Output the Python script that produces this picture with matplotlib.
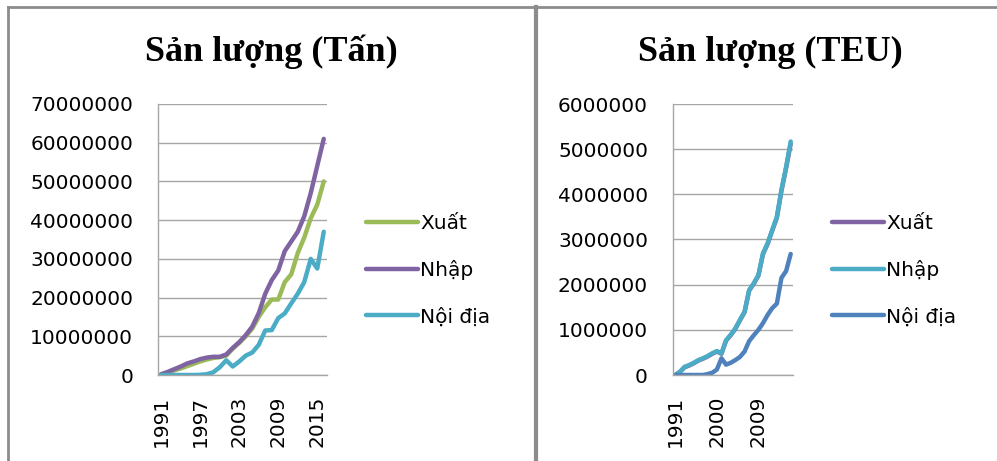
import matplotlib
matplotlib.use("Agg")
import matplotlib.pyplot as plt
from matplotlib.lines import Line2D

# Years 1991-2016
years = list(range(1991, 2017))

# Cargo throughput in tonnes (millions)
tan_xuat = [0.2, 0.6, 1.2, 1.7, 2.3, 2.9, 3.5, 4.0, 4.4, 4.6, 5.0, 6.8, 8.3, 10.0,
            12.0, 15.0, 17.5, 19.5, 19.5, 24.0, 26.0, 31.5, 35.5, 40.5, 44.0, 50.0]
tan_nhap = [0.2, 0.8, 1.5, 2.2, 3.0, 3.5, 4.1, 4.5, 4.7, 4.7, 5.3, 7.0, 8.5, 10.3,
            12.5, 16.0, 21.0, 24.5, 27.0, 32.0, 34.5, 37.0, 41.0, 47.0, 54.0, 61.0]
tan_noidia = [0.0, 0.0, 0.0, 0.0, 0.0, 0.0, 0.05, 0.2, 0.7, 2.0, 3.8, 2.2, 3.5, 5.0,
              5.8, 7.8, 11.5, 11.6, 14.7, 15.9, 18.5, 21.0, 24.0, 30.0, 27.5, 37.0]

# Container throughput in TEU (millions)
teu_xuat = [0.0, 0.07, 0.17, 0.21, 0.26, 0.32, 0.36, 0.41, 0.47, 0.52, 0.47, 0.76, 0.88,
            1.02, 1.21, 1.39, 1.87, 2.02, 2.20, 2.68, 2.90, 3.20, 3.48, 4.08, 4.58, 5.12]
teu_nhap = [0.0, 0.07, 0.18, 0.22, 0.27, 0.33, 0.37, 0.42, 0.48, 0.53, 0.48, 0.77, 0.89,
            1.03, 1.22, 1.40, 1.88, 2.03, 2.21, 2.69, 2.92, 3.21, 3.50, 4.10, 4.60, 5.17]
teu_noidia = [0.0, 0.0, 0.0, 0.0, 0.0, 0.0, 0.0, 0.02, 0.05, 0.12, 0.37, 0.23, 0.27,
              0.33, 0.40, 0.52, 0.75, 0.88, 1.00, 1.15, 1.33, 1.48, 1.58, 2.15, 2.30, 2.68]

GREEN = "#9BBB59"
PURPLE = "#8064A2"
CYAN = "#4BACC6"
BLUE = "#4F81BD"
GRID = "#A6A6A6"
BORDER = "#8C8C8C"

W, H = 997, 461
fig = plt.figure(figsize=(W / 100, H / 100), dpi=100)
fig.patch.set_facecolor("white")

tick_font = {"family": "DejaVu Sans", "size": 14.5}
title_font = {"family": "Liberation Serif", "size": 26, "weight": "bold"}


def px_axes(x0, x1, y0, y1):
    return fig.add_axes([x0 / W, 1 - y1 / H, (x1 - x0) / W, (y1 - y0) / H])


def style(ax, ymax, step, label_years):
    n = len(years)
    ax.set_xlim(-0.5, n - 0.5)
    ax.set_ylim(0, ymax)
    ax.set_yticks(range(0, ymax + 1, step))
    ax.set_yticklabels([str(v) for v in range(0, ymax + 1, step)], fontdict=tick_font)
    idx = [years.index(y) for y in label_years]
    ax.set_xticks(idx)
    ax.set_xticklabels([str(y) for y in label_years], rotation=90, fontdict=tick_font)
    ax.tick_params(axis="y", length=0, pad=18, colors="#000000")
    ax.tick_params(axis="x", length=0, pad=15, colors="#000000")
    ax.grid(axis="y", color=GRID, linewidth=1.0)
    ax.set_axisbelow(True)
    for s in ("top", "right"):
        ax.spines[s].set_visible(False)
    for s in ("left", "bottom"):
        ax.spines[s].set_color(GRID)
        ax.spines[s].set_linewidth(1.0)


def plot_series(ax, series, scale):
    x = list(range(len(years)))
    for name, vals, col in series:
        ax.plot(x, [v * scale for v in vals], color=col, linewidth=3.2,
                solid_capstyle="round", solid_joinstyle="round", label=name)


# Left chart: tonnes
ax1 = px_axes(158, 327, 104, 375)
plot_series(ax1, [("Xuất", tan_xuat, GREEN), ("Nhập", tan_nhap, PURPLE),
                  ("Nội địa", tan_noidia, CYAN)], 1_000_000)
style(ax1, 70_000_000, 10_000_000, [1991, 1997, 2003, 2009, 2015])

# Right chart: TEU
ax2 = px_axes(673, 793, 104, 375)
plot_series(ax2, [("Xuất", teu_xuat, PURPLE), ("Nhập", teu_nhap, CYAN),
                  ("Nội địa", teu_noidia, BLUE)], 1_000_000)
style(ax2, 6_000_000, 1_000_000, [1991, 2000, 2009])

fig.text(271 / W, 1 - 52 / H, "Sản lượng (Tấn)", ha="center", va="center", fontdict=title_font)
fig.text(770 / W, 1 - 52 / H, "Sản lượng (TEU)", ha="center", va="center", fontdict=title_font)

for ax, lx in ((ax1, 366), (ax2, 832)):
    ax.legend(loc="upper left", bbox_to_anchor=(lx / W, 1 - 214 / H),
              bbox_transform=fig.transFigure, frameon=False,
              prop={"family": "DejaVu Sans", "size": 14.5},
              handlelength=2.6, handletextpad=0.1, labelspacing=1.35,
              borderpad=0, borderaxespad=0)

# Panel borders
border_kw = dict(color=BORDER, linewidth=2.0, transform=fig.transFigure)
fig.add_artist(Line2D([8 / W, 535 / W], [1 - 7 / H, 1 - 7 / H], **border_kw))
fig.add_artist(Line2D([8 / W, 8 / W], [1 - 7 / H, 0], **border_kw))
fig.add_artist(Line2D([535.5 / W, 535.5 / W], [1 - 7 / H, 0],
                      color=BORDER, linewidth=3.0, transform=fig.transFigure))
fig.add_artist(Line2D([536 / W, 1.0], [1 - 7 / H, 1 - 7 / H], **border_kw))

fig.savefig("out.png", dpi=100, facecolor="white")
